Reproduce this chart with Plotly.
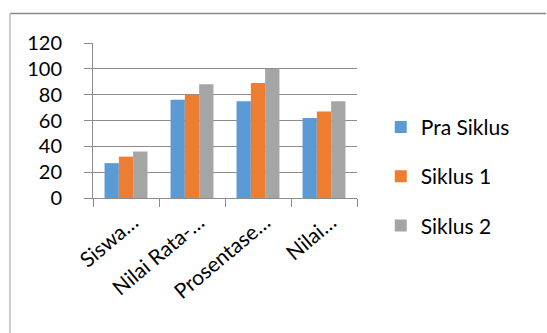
import plotly.graph_objects as go

categories = ["Siswa…", "Nilai Rata-…", "Prosentase…", "Nilai…"]
pra_siklus = [27, 76, 75, 62]
siklus_1 = [32, 80, 89, 67]
siklus_2 = [36, 88, 100, 75]

series = [
    ("Pra Siklus", pra_siklus, "#5B9BD5"),
    ("Siklus 1", siklus_1, "#ED7D31"),
    ("Siklus 2", siklus_2, "#A5A5A5"),
]

FONT = "Lato, Carlito, Calibri, sans-serif"
AXIS = "#8c8c8c"

fig = go.Figure()
for i, (name, vals, col) in enumerate(series):
    fig.add_trace(go.Bar(
        x=categories, y=vals, name=name, marker=dict(color=col, line=dict(width=0)),
        legendgroup=f"g{i}",
    ))

fig.update_layout(
    width=547, height=333,
    margin=dict(l=93, r=190, t=43, b=135, pad=0),
    paper_bgcolor="white", plot_bgcolor="white",
    barmode="group", bargap=0.35, bargroupgap=0,
    font=dict(family=FONT, size=20, color="#000000"),
    showlegend=True,
    legend=dict(
        x=1.09, xanchor="left", y=0.14, yanchor="middle",
        font=dict(family=FONT, size=21, color="#000000"),
        tracegroupgap=19, bgcolor="rgba(0,0,0,0)", borderwidth=0,
    ),
    xaxis=dict(
        type="category", showline=True, linecolor=AXIS, linewidth=1,
        ticks="outside", tickson="boundaries", ticklen=8, tickcolor=AXIS,
        tickangle=-40, showgrid=False, zeroline=False, automargin=False,
        ticklabelstandoff=3, ticklabelshift=7,
        tickfont=dict(family=FONT, size=21, color="#000000"),
    ),
    yaxis=dict(
        range=[0, 120], dtick=20, tick0=0, showline=True, linecolor=AXIS, linewidth=1,
        ticks="outside", ticklen=8, tickcolor=AXIS, showgrid=True, gridcolor=AXIS,
        gridwidth=1, zeroline=False, ticklabelstandoff=18, automargin=False,
        tickfont=dict(family=FONT, size=20, color="#000000"),
    ),
)

# Outer chart-area border (cropped at right and bottom) - drawn in pixel-equivalent paper coords
x_left = (10 - 93) / 264
x_right = (546 - 93) / 264
y_top = (198 - 13.5) / 155
y_bot = (198 - 333) / 155
fig.add_shape(type="line", xref="paper", yref="paper", x0=x_left, x1=x_right, y0=y_top, y1=y_top,
              line=dict(color="#888888", width=1.5))
fig.add_shape(type="line", xref="paper", yref="paper", x0=x_left, x1=x_left, y0=y_top, y1=y_bot,
              line=dict(color="#bbbbbb", width=1.5))

fig.write_html("out.html")
